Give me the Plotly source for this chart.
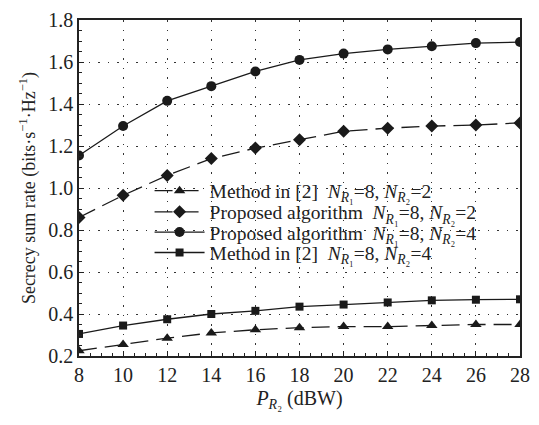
import plotly.graph_objects as go

x = [8, 10, 12, 14, 16, 18, 20, 22, 24, 26, 28]
tri = [0.225, 0.255, 0.285, 0.31, 0.325, 0.335, 0.34, 0.34, 0.345, 0.35, 0.35]
dia = [0.86, 0.965, 1.06, 1.14, 1.19, 1.23, 1.27, 1.285, 1.295, 1.30, 1.31]
cir = [1.155, 1.295, 1.415, 1.485, 1.555, 1.61, 1.64, 1.66, 1.675, 1.69, 1.695]
sq = [0.305, 0.345, 0.375, 0.40, 0.415, 0.435, 0.445, 0.455, 0.465, 0.468, 0.47]

NR1 = "<i>N</i><sub><i>R</i>₁</sub>"
NR2 = "<i>N</i><sub><i>R</i>₂</sub>"
names = [
    f"Method in [2]  {NR1}=8, {NR2}=2",
    f"Proposed algorithm  {NR1}=8, {NR2}=2",
    f"Proposed algorithm  {NR1}=8, {NR2}=4",
    f"Method in [2]  {NR1}=8, {NR2}=4",
]
series = [tri, dia, cir, sq]
symbols = ["triangle-up", "diamond", "circle", "square"]
dashes = ["dash", "dash", "solid", "solid"]
sizes = [10, 10, 10, 8]
legend_ids = ["legend", "legend2", "legend3", "legend4"]
legend_y = [0.491, 0.428, 0.368, 0.307]

font = "Liberation Serif, Times New Roman, serif"

fig = go.Figure()
for n, s, sym, d, sz, lid in zip(names, series, symbols, dashes, sizes, legend_ids):
    fig.add_trace(go.Scatter(
        x=x, y=s, name=n, mode="lines+markers", legend=lid,
        line=dict(color="#1a1a1a", width=1.3, dash="18px,8px" if d == "dash" else "solid"),
        marker=dict(symbol=sym, size=sz, color="#1a1a1a"),
    ))

leg_common = dict(x=0.16, xanchor="left", yanchor="middle", itemwidth=50,
                  bgcolor="rgba(0,0,0,0)", font=dict(size=19.5, family=font, color="#222"))
layout_legends = {lid: dict(y=ly, **leg_common) for lid, ly in zip(legend_ids, legend_y)}

fig.update_layout(
    width=539, height=425,
    margin=dict(l=79, r=18, t=9, b=69),
    paper_bgcolor="white", plot_bgcolor="white",
    font=dict(family=font, color="#222", size=18),
    showlegend=True,
    **layout_legends,
)
axis_common = dict(
    showline=True, linecolor="#222", linewidth=1.5, mirror=True,
    ticks="inside", ticklen=5, tickcolor="#222",
    showgrid=True, gridcolor="#333", griddash="1.5px,8px", gridwidth=1.2,
    zeroline=False,
    tickfont=dict(size=20, family=font, color="#222"),
    minor=dict(ticks="inside", ticklen=3, tickcolor="#222", showgrid=False),
)
fig.update_xaxes(range=[8, 28], dtick=2, tick0=8,
                 title=dict(text="<i>P</i><sub><i>R</i>₂</sub> (dBW)", font=dict(size=20), standoff=6),
                 **axis_common)
fig.update_yaxes(range=[0.2, 1.8], dtick=0.2, tick0=0.2, tickformat=".1f",
                 title=dict(text="Secrecy sum rate (bits·s<sup>−1</sup>·Hz<sup>−1</sup>)", font=dict(size=18), standoff=8),
                 **axis_common)
fig.write_html("out.html")
